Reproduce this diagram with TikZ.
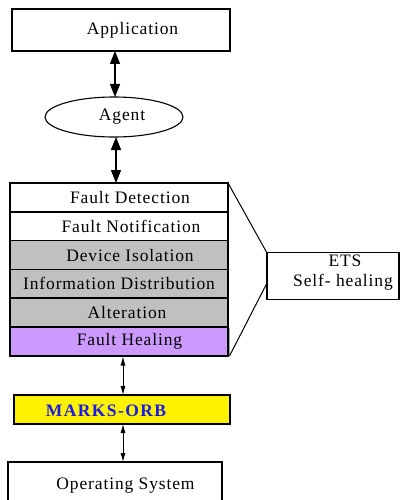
\documentclass[tikz,border=0pt]{standalone}
\usepackage{fontspec}
\setmainfont{Liberation Serif}[LetterSpace=5]
\usetikzlibrary{shapes.geometric,arrows.meta}
\definecolor{rowgray}{HTML}{C0C0C0}
\definecolor{healpurple}{HTML}{CC99FF}
\definecolor{orbblue}{HTML}{1A1AE6}
\begin{document}
\begin{tikzpicture}[x=1pt,y=-1pt,
  every node/.style={font=\fontsize{17.5}{20}\selectfont},
  box/.style={draw,line width=1.1pt,rectangle,inner sep=0pt,outer sep=0pt},
  rowbox/.style={draw,line width=1.6pt,rectangle,inner sep=0pt,outer sep=0pt,minimum width=218pt,minimum height=28.83pt},
  bigarrow/.style={line width=1.2pt,{Triangle[width=10pt,length=13pt]}-{Triangle[width=10pt,length=13pt]}},
  smallarrow/.style={line width=0.8pt,{Latex[width=5pt,length=9pt]}-{Latex[width=5pt,length=9pt]}},
  link/.style={line width=1pt}]
\useasboundingbox (0,0) rectangle (401,500);
% top
\node[box,minimum width=218pt,minimum height=42pt] (app) at (121,30) {\hspace{23pt}Application};
\node[draw,line width=1.1pt,ellipse,minimum width=138pt,minimum height=40pt,inner sep=0pt,outer sep=0pt] (agent) at (114,117) {\hspace{16pt}Agent};
% stack
\node[rowbox,fill=white] (fd) at (119,197.4) {\hspace{22pt}Fault Detection};
\node[rowbox,fill=white] (fn) at (119,226.2) {\hspace{24pt}Fault Notification};
\node[rowbox,fill=rowgray] (di) at (119,255.1) {\hspace{22pt}Device Isolation};
\node[rowbox,fill=rowgray] (id) at (119,283.9) {Information Distribution};
\node[rowbox,fill=rowgray] (al) at (119,312.7) {\hspace{16pt}Alteration};
\node[rowbox,fill=healpurple] (fh) at (119,341.6) {\hspace{21pt}Fault Healing};
\draw[gray!70,line width=1pt] (229.5,328) -- (229.5,356);
% ETS
\node[box,minimum width=132pt,minimum height=47pt,anchor=north west] (ets) at (267,252.5) {};
\node (etst) at (345,261) {ETS};
\node (etss) at (343,282) {Self- healing};
\coordinate (etsup) at (267,253);
\coordinate (etslow) at (267,283);
\draw[link] (fd.north east) -- (etsup);
\draw[link] (fh.south east) ++(1.5,0) -- (etslow);
% ORB and OS
\node[box,fill=yellow,minimum width=216pt,minimum height=29pt] (orb) at (122,409.5) {};
\node[font=\fontsize{17.5}{20}\selectfont\bfseries\addfontfeature{LetterSpace=8},text=orbblue] (orbt) at (106,411) {MARKS-ORB};
\node[box,minimum width=214pt,minimum height=60pt,anchor=north west] (os) at (8,462) {};
\node (ost) at (125.5,486) {Operating System};
% arrows
\draw[bigarrow] (115,51) -- (115,97);
\draw[bigarrow] (116,137) -- (116,183);
\draw[smallarrow] (123,356.5) -- (123,395);
\draw[smallarrow] (123,424) -- (123,462);
\end{tikzpicture}
\end{document}
